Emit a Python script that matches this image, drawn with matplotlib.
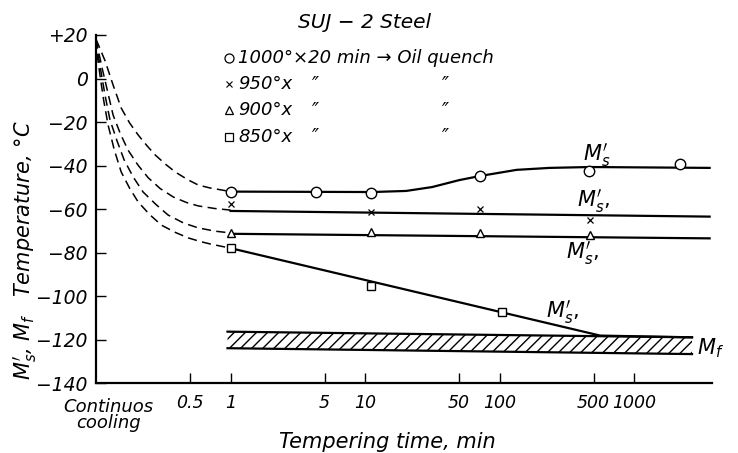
import matplotlib
matplotlib.use("Agg")
import matplotlib.pyplot as plt
import numpy as np

# ---- data ----
# dashed (continuous cooling) curves: x in min (0.1 = continuous cooling axis)
dash_c_x = [0.1, 0.105, 0.117, 0.134, 0.154, 0.178, 0.206, 0.24, 0.276, 0.33, 0.389, 0.48, 0.577, 0.7, 0.814, 1.0]
dash_c_y = [18, 15, 8, -3, -13.6, -20.5, -26, -31, -35.2, -39.5, -43, -46.5, -49, -50.3, -51, -52]
dash_x_x = [0.1, 0.104, 0.111, 0.122, 0.134, 0.152, 0.173, 0.205, 0.245, 0.3, 0.376, 0.47, 0.577, 0.77, 1.0]
dash_x_y = [18, 13, 4.8, -6, -16.8, -25.5, -32.9, -39.8, -45.7, -50.6, -54.5, -57, -58.6, -59.8, -60.5]
dash_t_x = [0.1, 0.103, 0.109, 0.117, 0.127, 0.143, 0.162, 0.19, 0.224, 0.28, 0.344, 0.45, 0.577, 0.77, 1.0]
dash_t_y = [18, 12, 3, -8, -19, -28.5, -37.5, -45.5, -52.2, -58, -62.8, -66.5, -68.7, -70.2, -71]
dash_s_x = [0.1, 0.102, 0.107, 0.114, 0.123, 0.137, 0.154, 0.178, 0.206, 0.25, 0.306, 0.39, 0.486, 0.6, 0.709, 1.0]
dash_s_y = [18, 11, 1.6, -10, -21.4, -33, -43, -50.5, -56.8, -62.5, -67.4, -70.8, -73.3, -75, -76.1, -78]

# solid M_s' lines
line_c_x = [1, 11.3, 20.2, 31.6, 50.3, 72, 134, 236, 470, 3650]
line_c_y = [-52, -52.2, -51.7, -49.9, -46.7, -44.8, -42, -41.1, -40.7, -41.1]
line_x_x = [1, 3650]
line_x_y = [-60.9, -63.5]
line_t_x = [1, 3650]
line_t_y = [-71.4, -73.5]
line_s_x = [1, 560, 2700]
line_s_y = [-78, -118.2, -119]

# measured points
pts_c_x = [1, 4.3, 11, 72, 460, 2180]
pts_c_y = [-52, -52, -52.6, -44.8, -42.7, -39.1]
pts_x_x = [1, 11, 72, 470]
pts_x_y = [-57.5, -61.4, -60.2, -65.1]
pts_t_x = [1, 11, 72, 470]
pts_t_y = [-71.2, -70.8, -71.0, -71.9]
pts_s_x = [1, 11, 105]
pts_s_y = [-77.8, -95.2, -107.5]

# M_f band
mf_x = [0.95, 2700]
mf_upper = [-116.4, -119.0]
mf_lower = [-124.0, -126.7]

xticks = [0.5, 1, 5, 10, 50, 100, 500, 1000]
xtick_labels = ["0.5", "1", "5", "10", "50", "100", "500", "1000"]
yticks = [20, 0, -20, -40, -60, -80, -100, -120, -140]
ytick_labels = ["+20", "0", "−20", "−40", "−60", "−80", "−100", "−120", "−140"]

W, H = 738, 453
fig = plt.figure(figsize=(W / 100, H / 100), dpi=100)
ax = fig.add_axes([96 / W, 1 - 383 / H, (712 - 96) / W, (383 - 35) / H])
ax.set_xscale("log")
ax.set_xlim(0.1, 3800)
ax.set_ylim(-140, 20)

k = "black"
dash = dict(color=k, lw=1.1, ls=(0, (6, 3.5)))
for xs, ys in [(dash_c_x, dash_c_y), (dash_x_x, dash_x_y), (dash_t_x, dash_t_y), (dash_s_x, dash_s_y)]:
    ax.plot(xs, ys, **dash)

for xs, ys in [(line_c_x, line_c_y), (line_x_x, line_x_y), (line_t_x, line_t_y), (line_s_x, line_s_y)]:
    ax.plot(xs, ys, color=k, lw=1.6)

mk = dict(ls="none", mfc="white", mec=k, mew=1.0, zorder=5)
ax.plot(pts_c_x, pts_c_y, marker="o", ms=7.5, **mk)
ax.plot(pts_x_x, pts_x_y, marker="x", ms=4.5, ls="none", color=k, mew=0.9, zorder=5)
ax.plot(pts_t_x, pts_t_y, marker="^", ms=6, **mk)
ax.plot(pts_s_x, pts_s_y, marker="s", ms=6, **mk)

# M_f band
plt.rcParams["hatch.linewidth"] = 1.0
ax.fill_between(mf_x, mf_lower, mf_upper, facecolor="none", edgecolor=k, hatch="///", lw=0)
ax.plot(mf_x, mf_upper, color=k, lw=1.6)
ax.plot(mf_x, mf_lower, color=k, lw=1.6)

# labels on curves
tf = dict(fontsize=15, color=k, ha="center", va="center")
ax.text(530, -35, "$M_s'$", **tf)
ax.text(495, -56.4, "$M_s'$,", **tf)
ax.text(416, -80.2, "$M_s'$,", **tf)
ax.text(295, -107.4, "$M_s'$,", **tf)
ax.text(2950, -124, "$M_f$", fontsize=15, color=k, ha="left", va="center", clip_on=False)

# axes styling
for s in ["top", "right"]:
    ax.spines[s].set_visible(False)
for s in ["left", "bottom"]:
    ax.spines[s].set_linewidth(1.6)
ax.set_xticks(xticks)
ax.set_xticklabels(xtick_labels, fontsize=12.5, style="italic")
ax.xaxis.set_minor_locator(matplotlib.ticker.NullLocator())
ax.set_yticks(yticks)
ax.set_yticklabels(ytick_labels, fontsize=13.5, style="italic")
ax.tick_params(axis="both", direction="in", length=7, width=1, pad=6)
ax.tick_params(axis="x", pad=8)

ax.text(0.123, -147, "Continuos\ncooling", fontsize=13, style="italic", ha="center", va="top",
        linespacing=0.85, clip_on=False)

fig.text(387 / W, 1 - 442 / H, "Tempering time, min", fontsize=15, style="italic", ha="center", va="center")
fig.text(25 / W, 1 - 250 / H, "$M_s'$, $M_f$   Temperature, °C", fontsize=15, style="italic",
         ha="center", va="center", rotation=90)

# title / legend block
fig.text(365 / W, 1 - 22 / H, "SUJ − 2 Steel", fontsize=14.5, style="italic", ha="center", va="center")
leg_y = [58, 84, 110, 137]
leg_marks = [("o", 6.5), ("x", 4), ("^", 5.5), ("s", 5.5)]
leg_texts = ["1000°×20 min → Oil quench", "950°x", "900°x", "850°x"]
for (m, s), t, py in zip(leg_marks, leg_texts, leg_y):
    fy = 1 - py / H
    if m == "x":
        fig.lines.append(plt.Line2D([229 / W], [fy], marker=m, ms=s, color=k, mew=0.8, ls="none",
                                    transform=fig.transFigure))
    else:
        fig.lines.append(plt.Line2D([229 / W], [fy], marker=m, ms=s, mfc="white", mec=k, mew=0.9,
                                    ls="none", transform=fig.transFigure))
    fig.text(238 / W, fy, t, fontsize=13, style="italic", ha="left", va="center")
    if py != 58:
        fig.text(315 / W, fy, "″", fontsize=13.5, style="italic", ha="center", va="center")
        fig.text(445 / W, fy, "″", fontsize=13.5, style="italic", ha="center", va="center")

fig.savefig("out.png", dpi=100)
